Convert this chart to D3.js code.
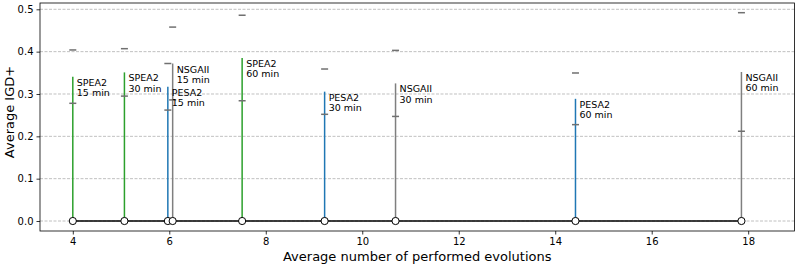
<!DOCTYPE html>
<html>
<head>
<meta charset="utf-8">
<script src="https://cdn.jsdelivr.net/npm/d3@7"></script>
<style>
  html, body { margin: 0; padding: 0; background: #fff; }
  svg { display: block; font-family: "DejaVu Sans", sans-serif; }
</style>
</head>
<body>
<svg id="chart" width="797" height="266"></svg>
<script>
// Data
const algorithms = ["SPEA2", "SPEA2", "PESA2", "NSGAII", "SPEA2", "PESA2", "NSGAII", "PESA2", "NSGAII"];
const budgets = ["15 min", "30 min", "15 min", "15 min", "60 min", "30 min", "30 min", "60 min", "60 min"];
const evolutions = [4.0, 5.07, 5.97, 6.07, 7.51, 9.22, 10.69, 14.42, 17.86];
const meanIGD = [0.341, 0.351, 0.317, 0.372, 0.385, 0.3055, 0.325, 0.2886, 0.352];
const stdIGD = [0.063, 0.056, 0.055, 0.086, 0.101, 0.0535, 0.078, 0.061, 0.14];
const xTicks = [4, 6, 8, 10, 12, 14, 16, 18];
const yTicks = [0.0, 0.1, 0.2, 0.3, 0.4, 0.5];
const algoColors = { SPEA2: "#2ca02c", PESA2: "#1f77b4", NSGAII: "#7f7f7f" };

const svg = d3.select("#chart");
const L = 40, R = 794.5, T = 3, B = 231;

const x = d3.scaleLinear().domain([3.32, 18.96]).range([L, R]);
const y = d3.scaleLinear().domain([-0.0236, 0.5149]).range([B, T]);

const data = evolutions.map((e, i) => ({
  x: e, m: meanIGD[i], s: stdIGD[i], algo: algorithms[i], budget: budgets[i]
}));

// grid
svg.append("g").selectAll("line").data(yTicks).join("line")
  .attr("x1", L).attr("x2", R)
  .attr("y1", d => y(d)).attr("y2", d => y(d))
  .attr("stroke", "#b0b0b0").attr("stroke-width", 0.8)
  .attr("stroke-dasharray", "3,1.5");

// stems
svg.append("g").selectAll("line").data(data).join("line")
  .attr("x1", d => x(d.x)).attr("x2", d => x(d.x))
  .attr("y1", d => y(0)).attr("y2", d => y(d.m))
  .attr("stroke", d => algoColors[d.algo]).attr("stroke-width", 1.5);

// error caps
const caps = [];
data.forEach(d => { caps.push({x: d.x, v: d.m - d.s}); caps.push({x: d.x, v: d.m + d.s}); });
svg.append("g").selectAll("line").data(caps).join("line")
  .attr("x1", d => x(d.x) - 3.5).attr("x2", d => x(d.x) + 3.5)
  .attr("y1", d => y(d.v)).attr("y2", d => y(d.v))
  .attr("stroke", "#707070").attr("stroke-width", 1.5);

// baseline
const line = d3.line().x(d => x(d.x)).y(() => y(0));
svg.append("path").datum(data).attr("d", line)
  .attr("fill", "none").attr("stroke", "#000").attr("stroke-width", 1.5);

svg.append("g").selectAll("circle").data(data).join("circle")
  .attr("cx", d => x(d.x)).attr("cy", y(0)).attr("r", 3.6)
  .attr("fill", "#fff").attr("stroke", "#000").attr("stroke-width", 1);

// annotations
const ann = svg.append("g").selectAll("text").data(data).join("text")
  .attr("x", d => x(d.x) + 4)
  .attr("y", d => y(d.m) + 9)
  .attr("font-size", "9.5px").attr("fill", "#000");
ann.append("tspan").attr("x", d => x(d.x) + 4).text(d => d.algo);
ann.append("tspan").attr("x", d => x(d.x) + 4).attr("dy", 10.5).text(d => d.budget);

// axes
const xAxis = d3.axisBottom(x).tickValues(xTicks).tickSize(3.5).tickPadding(3).tickFormat(d3.format("d"));
const yAxis = d3.axisLeft(y).tickValues(yTicks).tickSize(3.5).tickPadding(3).tickFormat(d3.format(".1f"));
const gx = svg.append("g").attr("transform", `translate(0,${B})`).call(xAxis);
const gy = svg.append("g").attr("transform", `translate(${L},0)`).call(yAxis);
[gx, gy].forEach(g => {
  g.select(".domain").remove();
  g.selectAll("text").attr("font-size", "10px").attr("fill", "#000").attr("font-family", "DejaVu Sans");
  g.selectAll("line").attr("stroke", "#000").attr("stroke-width", 0.8);
});

// frame
svg.append("rect").attr("x", L).attr("y", T).attr("width", R - L).attr("height", B - T)
  .attr("fill", "none").attr("stroke", "#000").attr("stroke-width", 0.8);

// axis labels
svg.append("text").attr("x", (L + R) / 2 + 0).attr("y", 261)
  .attr("text-anchor", "middle").attr("font-size", "13px").text("Average number of performed evolutions");
svg.append("text").attr("transform", `translate(14,${(T + B) / 2 - 5}) rotate(-90)`)
  .attr("text-anchor", "middle").attr("font-size", "13px").text("Average IGD+");
</script>
</body>
</html>
